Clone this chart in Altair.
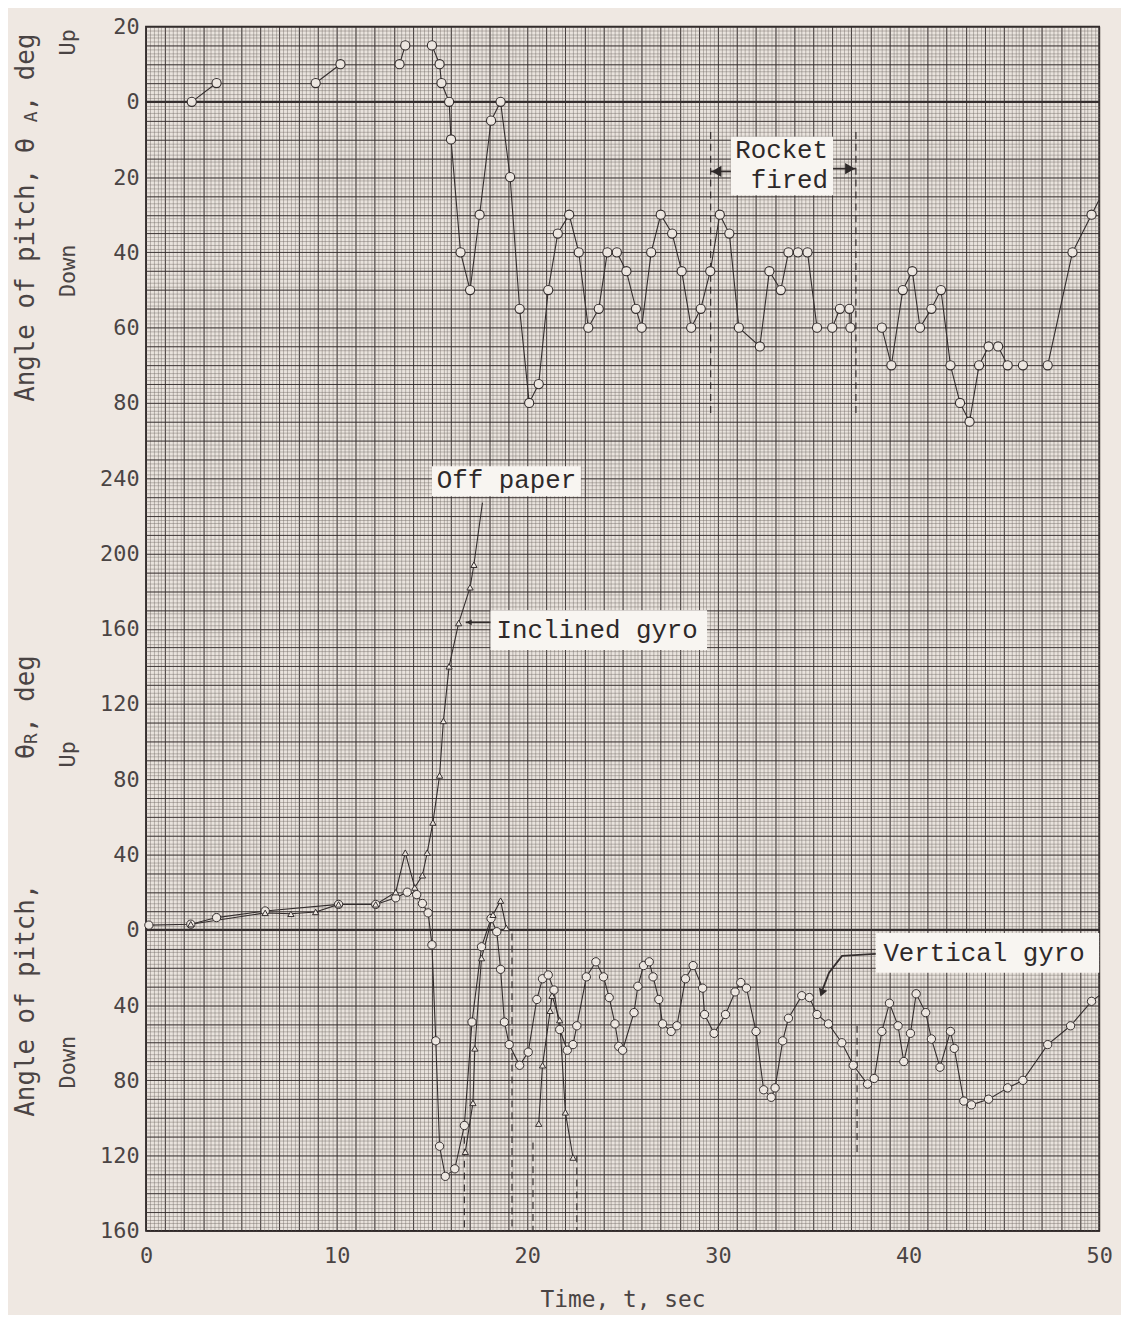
import altair as alt
import numpy as np
import pandas as pd

# ---------------- values ----------------
# Upper record: angle of pitch theta_A, deg (positive = up); traced pieces
thA_1_t = [2.4, 3.7]
thA_1_v = [0, 5]
thA_2_t = [8.9, 10.2]
thA_2_v = [5, 10]
thA_3_t = [13.3, 13.6]
thA_3_v = [10, 15]
thA_4_t = [15.0, 15.4, 15.5, 15.9, 16.0, 16.5, 17.0, 17.5, 18.1, 18.6, 19.1, 19.6,
           20.1, 20.6, 21.1, 21.6, 22.2, 22.7, 23.2, 23.75, 24.2, 24.7, 25.2, 25.7,
           26.0, 26.5, 27.0, 27.6, 28.1, 28.6, 29.1, 29.6, 30.1, 30.6, 31.1, 32.2,
           32.7, 33.3, 33.7, 34.2, 34.7, 35.2]
thA_4_v = [15, 10, 5, 0, -10, -40, -50, -30, -5, 0, -20, -55,
           -80, -75, -50, -35, -30, -40, -60, -55, -40, -40, -45, -55,
           -60, -40, -30, -35, -45, -60, -55, -45, -30, -35, -60, -65,
           -45, -50, -40, -40, -40, -60]
thA_5_t = [36.0, 36.4, 36.9, 36.95]
thA_5_v = [-60, -55, -55, -60]
thA_6_t = [38.6, 39.1, 39.7, 40.2, 40.6, 41.2, 41.7, 42.2, 42.7, 43.2, 43.7, 44.2, 44.7, 45.2]
thA_6_v = [-60, -70, -50, -45, -60, -55, -50, -70, -80, -85, -70, -65, -65, -70]
thA_7_t = [46.0]
thA_7_v = [-70]
thA_8_t = [47.3, 48.6, 49.6]
thA_8_v = [-70, -40, -30]
thA_8_edge = [50.0, -26]

# Lower record: angle of pitch theta_R, deg (positive = up)
# vertical gyro (circles)
vert_t = [0.15, 2.35, 3.7, 6.25, 10.1, 12.05, 13.1, 13.7, 14.2, 14.5, 14.8, 15.0, 15.2,
          15.4, 15.7, 16.2, 16.7, 17.1, 17.6, 18.1, 18.4, 18.6, 18.8, 19.05, 19.6, 20.05,
          20.5, 20.8, 21.1, 21.4, 21.7, 22.1, 22.4, 22.6, 23.1, 23.6, 24.0, 24.3, 24.6,
          24.8, 25.0, 25.6, 25.8, 26.1, 26.4, 26.6, 26.9, 27.1, 27.55, 27.85, 28.3, 28.7,
          29.2, 29.3, 29.8, 30.4, 30.9, 31.2, 31.5, 32.0, 32.4, 32.8, 33.0, 33.4, 33.7,
          34.4, 34.8, 35.2, 35.8, 36.5, 37.1, 37.85, 38.2, 38.6, 39.0, 39.45, 39.75, 40.1,
          40.4, 40.9, 41.2, 41.65, 42.2, 42.4, 42.9, 43.3, 44.2, 45.2, 46.0, 47.3, 48.5, 49.6]
vert_v = [2.5, 3, 6.5, 10, 13.5, 13.5, 17, 20, 18.7, 14, 9, -8, -59,
          -115, -131, -127, -104, -49, -9, 6, -1, -21, -49, -61, -72, -65,
          -37, -26, -24, -32, -53, -64, -61, -51, -25, -17, -25, -36, -50,
          -62, -64, -44, -30, -19, -17, -25, -37, -50, -54, -51, -26, -19,
          -31, -45, -55, -45, -33, -28, -31, -54, -85, -89, -84, -59, -47,
          -35, -36, -45, -50, -60, -72, -82, -79, -54, -39, -51, -70, -55,
          -34, -44, -58, -73, -54, -63, -91, -93, -90, -84, -80, -61, -51, -38]
vert_edge = [50.0, -35]

# inclined gyro (triangles)
incl_1_t = [2.35, 6.25, 7.6, 8.9, 10.1, 12.05, 13.1, 13.6, 14.1, 14.5, 14.75, 15.05,
            15.4, 15.6, 15.9, 16.4, 17.0, 17.2]
incl_1_v = [3, 9, 8.5, 9.5, 13.5, 13.5, 20, 41, 22.5, 29, 41, 57,
            82, 111, 140, 163, 182, 194]
incl_1_edge = [17.65, 227]
incl_2_t = [16.75, 17.15, 17.25, 17.6, 18.2, 18.6, 18.9]
incl_2_v = [-118, -92, -63, -15, 8, 15.5, 1]
incl_3_t = [20.6, 20.8, 21.2, 21.3, 21.7, 22.0, 22.4]
incl_3_v = [-103, -72, -43, -35, -48, -97, -121]

# dashed vertical marks
dashA_t = [29.62, 37.24]
dashA_from = [-8, -8]
dashA_to = [-83, -83]
dashR_t = [16.7, 19.2, 20.3, 22.6, 37.3]
dashR_from = [-110, -2, -113, -120, -51]
dashR_to = [-160, -160, -160, -160, -119]

y_ticks = list(range(-160, 481, 40))
x_ticks = [0, 10, 20, 30, 40, 50]

# ---------------- styling ----------------
PAPER = "#efe8e2"
INK = "#332d2d"
MONO = "DejaVu Sans Mono"
TYPE = "Liberation Mono"


def to_Y(v, panel):
    # one common vertical scale: lower record in deg, upper record at 2x scale
    return 440 + 2 * v if panel == "A" else v


line_rows, circA_rows, circR_rows, tri_rows = [], [], [], []


def add(seg, ts, vs, panel, kind, edge=None):
    for i, (t, v) in enumerate(zip(ts, vs)):
        line_rows.append(dict(seg=seg, i=i, t=t, Y=to_Y(v, panel)))
        row = dict(t=t, Y=to_Y(v, panel))
        if kind == "tri":
            tri_rows.append(row)
        elif panel == "A":
            circA_rows.append(row)
        else:
            circR_rows.append(row)
    if edge is not None:
        line_rows.append(dict(seg=seg, i=len(ts), t=edge[0], Y=to_Y(edge[1], panel)))


add("A1", thA_1_t, thA_1_v, "A", "circ")
add("A2", thA_2_t, thA_2_v, "A", "circ")
add("A3", thA_3_t, thA_3_v, "A", "circ")
add("A4", thA_4_t, thA_4_v, "A", "circ")
add("A5", thA_5_t, thA_5_v, "A", "circ")
add("A6", thA_6_t, thA_6_v, "A", "circ")
add("A7", thA_7_t, thA_7_v, "A", "circ")
add("A8", thA_8_t, thA_8_v, "A", "circ", thA_8_edge)
add("V", vert_t, vert_v, "R", "circ", vert_edge)
add("I1", incl_1_t, incl_1_v, "R", "tri", incl_1_edge)
add("I2", incl_2_t, incl_2_v, "R", "tri")
add("I3", incl_3_t, incl_3_v, "R", "tri")

lines_df = pd.DataFrame(line_rows)
circA_df = pd.DataFrame(circA_rows)
circR_df = pd.DataFrame(circR_rows)
tri_df = pd.DataFrame(tri_rows)

dash_df = pd.DataFrame(
    [dict(t=t, Y1=to_Y(a, "A"), Y2=to_Y(b, "A")) for t, a, b in zip(dashA_t, dashA_from, dashA_to)]
    + [dict(t=t, Y1=a, Y2=b) for t, a, b in zip(dashR_t, dashR_from, dashR_to)]
)
zero_df = pd.DataFrame({"Y": [to_Y(0, "A"), to_Y(0, "R")]})

xs = alt.Scale(domain=[0, 50], nice=False, zero=False)
ys = alt.Scale(domain=[-160, 480], nice=False, zero=False)


def X(field="t", **kw):
    return alt.X(f"{field}:Q", scale=xs, axis=None, **kw)


def Yc(field="Y", **kw):
    return alt.Y(f"{field}:Q", scale=ys, axis=None, **kw)


dummy = pd.DataFrame({"t": [0.0], "Y": [0.0]})

fine_x = [float(v) for v in np.round(np.arange(0, 50.001, 0.2), 2)]
fine_y = [float(v) for v in np.arange(-160, 480.1, 2)]
med_x = [float(v) for v in np.arange(0, 50.1, 1)]
med_y = [float(v) for v in np.arange(-160, 480.1, 10)]

grid_common = dict(labels=False, ticks=False, domain=False, title=None)

fine = alt.Chart(dummy).mark_point(opacity=0).encode(
    x=alt.X("t:Q", scale=xs, axis=alt.Axis(values=fine_x, grid=True, gridColor="#6c6460",
                                           gridWidth=0.6, gridOpacity=0.7, orient="bottom", **grid_common)),
    y=alt.Y("Y:Q", scale=ys, axis=alt.Axis(values=fine_y, grid=True, gridColor="#6c6460",
                                           gridWidth=0.6, gridOpacity=0.7, orient="left", **grid_common)),
)
medium = alt.Chart(dummy).mark_point(opacity=0).encode(
    x=alt.X("t:Q", scale=xs, axis=alt.Axis(values=med_x, grid=True, gridColor="#2f2828",
                                           gridWidth=1.0, gridOpacity=0.85, orient="bottom", **grid_common)),
    y=alt.Y("Y:Q", scale=ys, axis=alt.Axis(values=med_y, grid=True, gridColor="#2f2828",
                                           gridWidth=1.0, gridOpacity=0.85, orient="left", **grid_common)),
)
axes = alt.Chart(dummy).mark_point(opacity=0).encode(
    x=alt.X("t:Q", scale=xs, axis=alt.Axis(
        values=x_ticks, grid=False, ticks=False, domain=False, orient="bottom",
        labelFont=MONO, labelFontSize=22, labelColor="#4a4444", labelPadding=15, labelFlush=False,
        title="Time,  t,  sec", titleFont=MONO, titleFontSize=23, titleFontWeight="normal",
        titleColor="#4a4444", titlePadding=22)),
    y=alt.Y("Y:Q", scale=ys, axis=alt.Axis(
        values=y_ticks, grid=False, ticks=False, domain=False, orient="left",
        labelExpr="datum.value > 250 ? format(abs((datum.value - 440) / 2), 'd') : format(abs(datum.value), 'd')",
        labelFont=MONO, labelFontSize=22, labelColor="#4a4444", labelPadding=7, title=None)),
)

zero_lines = alt.Chart(zero_df).mark_rule(color=INK, strokeWidth=2.0).encode(y=Yc())
dashes = alt.Chart(dash_df).mark_rule(color=INK, strokeWidth=1.2, strokeDash=[7, 5]).encode(
    x=X(), y=Yc("Y1"), y2=alt.Y2("Y2:Q"))

traces = alt.Chart(lines_df).mark_line(color=INK, strokeWidth=1.1).encode(
    x=X(), y=Yc(), detail="seg:N", order="i:Q")
circA = alt.Chart(circA_df).mark_point(shape="circle", filled=True, fill="#ece6e0", stroke=INK,
                                       strokeWidth=1.1, size=85, opacity=1).encode(x=X(), y=Yc())
circR = alt.Chart(circR_df).mark_point(shape="circle", filled=True, fill="#ece6e0", stroke=INK,
                                       strokeWidth=1.0, size=70, opacity=1).encode(x=X(), y=Yc())
tris = alt.Chart(tri_df).mark_point(shape="triangle-up", filled=True, fill="#ece6e0", stroke=INK,
                                    strokeWidth=1.0, size=40, opacity=1).encode(x=X(), y=Yc())

# annotation boxes and labels
box_df = pd.DataFrame({
    "t1": [30.68, 15.0, 18.07, 38.28],
    "t2": [36.04, 22.81, 29.43, 50.0],
    "Y1": [421.4, 246.3, 169.8, -1.7],
    "Y2": [390.3, 230.4, 148.7, -22.8],
})
boxes = alt.Chart(box_df).mark_rect(fill="#f8f5f1", opacity=1).encode(
    x=X("t1"), x2=alt.X2("t2:Q"), y=Yc("Y1"), y2=alt.Y2("Y2:Q"))

typed_df = pd.DataFrame({
    "text": ["Rocket", "fired", "Off paper", "Inclined gyro", "Vertical gyro"],
    "t": [35.78, 35.78, 18.91, 18.39, 43.96],
    "Y": [414.6, 398.2, 238.9, 159.2, -12.3],
    "align": ["right", "right", "center", "left", "center"],
})
typed = alt.layer(*[
    alt.Chart(typed_df[typed_df["align"] == a]).mark_text(
        font=TYPE, fontSize=26, color="#2e2929", align=a, baseline="middle").encode(
        x=X(), y=Yc(), text="text:N")
    for a in ["right", "center", "left"]
])

arrow_df = pd.DataFrame({
    "seg": ["L", "L", "R", "R", "I", "I", "V", "V", "V", "V"],
    "i": [0, 1, 0, 1, 0, 1, 0, 1, 2, 3],
    "t": [29.62, 30.68, 36.04, 37.24, 16.77, 18.07, 38.28, 36.51, 35.83, 35.5],
    "Y": [403.0, 403.0, 404.5, 404.5, 163.4, 163.4, -12.8, -13.9, -22.8, -31.5],
})
arrow_lines = alt.Chart(arrow_df).mark_line(color=INK, strokeWidth=1.8).encode(
    x=X(), y=Yc(), detail="seg:N", order="i:Q")
head_l = alt.Chart(pd.DataFrame({"t": [29.93], "Y": [403.0]})).mark_point(
    shape="triangle-left", filled=True, color="#2e2929", size=130, opacity=1).encode(x=X(), y=Yc())
head_r = alt.Chart(pd.DataFrame({"t": [36.93], "Y": [404.5]})).mark_point(
    shape="triangle-right", filled=True, color="#2e2929", size=130, opacity=1).encode(x=X(), y=Yc())
head_i = alt.Chart(pd.DataFrame({"t": [16.95], "Y": [163.4]})).mark_point(
    shape="triangle-left", filled=True, color="#2e2929", size=35, opacity=1).encode(x=X(), y=Yc())
head_v = alt.Chart(pd.DataFrame({"t": [35.45], "Y": [-33.5]})).mark_point(
    shape="triangle-up", angle=200, filled=True, color="#2e2929", size=80, opacity=1).encode(x=X(), y=Yc())

# rotated axis titles (with subscripts)
title_df = pd.DataFrame({
    "text": ["Angle of pitch,  \u03b8", ", deg", "Angle of pitch,", "\u03b8", ", deg"],
    "t": [-6.30, -6.30, -6.30, -6.30, -6.30],
    "Y": [280.6, 435.0, -99.3, 90.6, 104.7],
})
sub_df = pd.DataFrame({"text": ["A", "R"], "t": [-5.98, -5.98], "Y": [429.2, 98.8]})
updown_df = pd.DataFrame({
    "text": ["Up", "Down", "Up", "Down"],
    "t": [-4.11, -4.11, -4.11, -4.11],
    "Y": [471.6, 350.2, 93.3, -70.3],
})
titles = alt.Chart(title_df).mark_text(font=MONO, fontSize=26, color="#4a4444", angle=270,
                                       align="left", baseline="middle").encode(x=X(), y=Yc(), text="text:N")
subs = alt.Chart(sub_df).mark_text(font=MONO, fontSize=18, color="#4a4444", angle=270,
                                   align="left", baseline="middle").encode(x=X(), y=Yc(), text="text:N")
updown = alt.Chart(updown_df).mark_text(font=MONO, fontSize=22, color="#4a4444", angle=270,
                                        align="center", baseline="middle").encode(x=X(), y=Yc(), text="text:N")

chart = alt.layer(
    fine, medium, axes, zero_lines, dashes, traces, circA, circR, tris,
    boxes, typed, arrow_lines, head_l, head_r, head_i, head_v, titles, subs, updown,
).resolve_axis(x="independent", y="independent").properties(
    width=960, height=1213,
    autosize=alt.AutoSizeParams(type="none"),
    padding={"left": 139, "top": 14, "right": 22, "bottom": 80},
).configure(background=PAPER).configure_view(fill="#e9e3dd", stroke="#2a2525", strokeWidth=1.8)

chart.save("out.html", embed_options={"renderer": "svg", "actions": False})
